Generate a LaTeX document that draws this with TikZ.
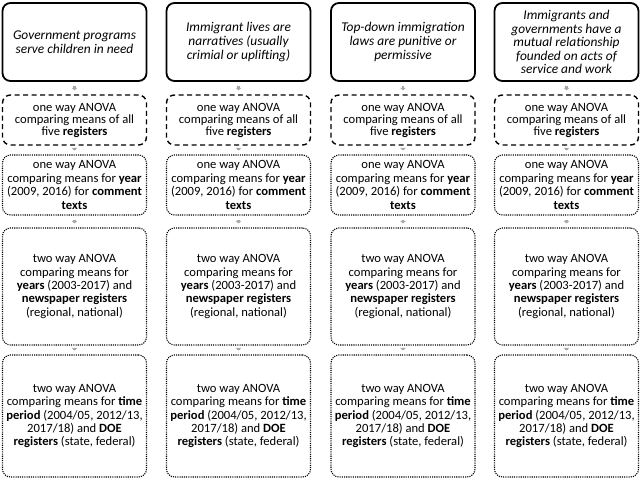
\documentclass[tikz,border=0pt]{standalone}
\usepackage{fontspec}
\setmainfont{Carlito}
\usetikzlibrary{arrows.meta}
\begin{document}
\begin{tikzpicture}[x=1pt,y=-1pt,
  base/.style={rectangle,rounded corners=8pt,minimum width=144pt,align=center,inner sep=1pt,
    font=\fontsize{12.6pt}{13.4pt}\selectfont},
  topbox/.style={base,draw,line width=1.8pt,minimum height=78pt,
    font=\fontsize{13.4pt}{13.6pt}\selectfont\itshape},
  dashbox/.style={base,draw,line width=1.4pt,dash pattern=on 5pt off 3.5pt,minimum height=50pt,
    font=\fontsize{12.6pt}{12pt}\selectfont},
  dotbox/.style={base,draw,line width=1.1pt,dash pattern=on 1.1pt off 1.1pt},
  link/.style={draw=black!35,line width=2.6pt,-{Triangle[width=5.5pt,length=2.5pt]},shorten <=4pt,shorten >=4pt}
]
\useasboundingbox (0,0) rectangle (643,480);
\foreach \i/\cx in {1/74.5,2/238.5,3/403,4/566.5}{
  \node[dashbox] (b\i) at (\cx,120) {one way ANOVA\\comparing means of all\\five \textbf{registers}};
  \node[dotbox,minimum height=60pt] (c\i) at (\cx,185) {one way ANOVA\\comparing means for \textbf{year}\\(2009, 2016) for \textbf{comment}\\\textbf{texts}};
  \node[dotbox,minimum height=117pt] (d\i) at (\cx,286.5) {two way ANOVA\\comparing means for\\\textbf{years} (2003-2017) and\\\textbf{newspaper registers}\\(regional, national)};
  \node[dotbox,minimum height=122pt] (e\i) at (\cx,416) {two way ANOVA\\comparing means for \textbf{time}\\\textbf{period} (2004/05, 2012/13,\\2017/18) and \textbf{DOE}\\\textbf{registers} (state, federal)};
}
\node[topbox] (a1) at (74.5,42) {Government programs\\serve children in need};
\node[topbox] (a2) at (238.5,42) {Immigrant lives are\\narratives (usually\\crimial or uplifting)};
\node[topbox] (a3) at (403,42) {Top-down immigration\\laws are punitive or\\permissive};
\node[topbox] (a4) at (566.5,42) {Immigrants and\\governments have a\\mutual relationship\\founded on acts of\\service and work};
\foreach \i in {1,2,3,4}{
  \draw[link] (a\i) -- (b\i);
  \draw[link] (b\i) -- (c\i);
  \draw[link] (c\i) -- (d\i);
  \draw[link] (d\i) -- (e\i);
}
\end{tikzpicture}
\end{document}
